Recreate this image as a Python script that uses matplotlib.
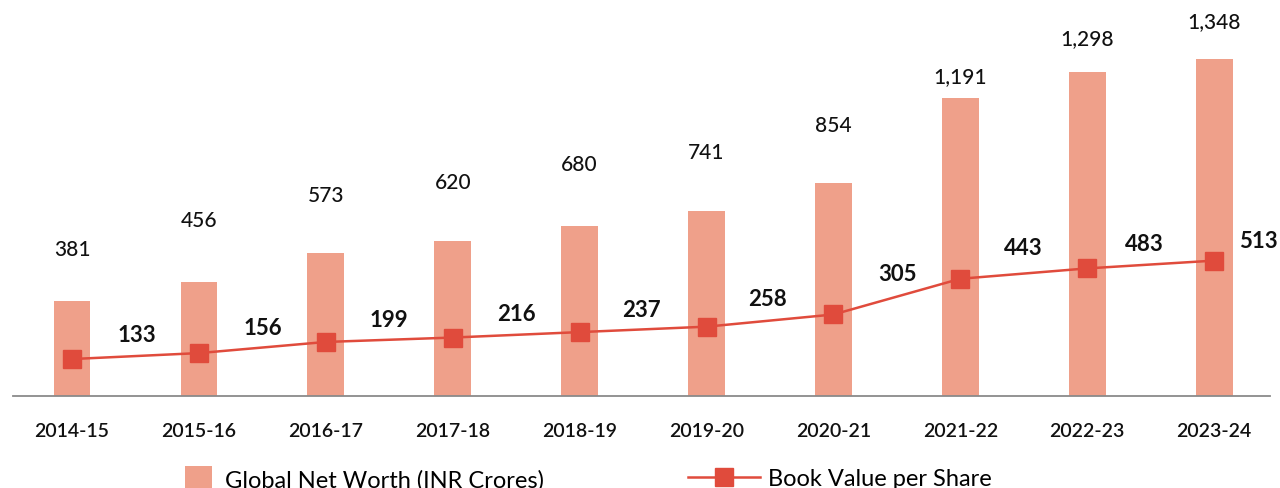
import numpy as np
import matplotlib
matplotlib.use("Agg")
import matplotlib.pyplot as plt
from matplotlib.patches import Patch
from matplotlib.lines import Line2D

plt.rcParams['font.family'] = ['Lato', 'DejaVu Sans']

years = ['2014-15', '2015-16', '2016-17', '2017-18', '2018-19',
         '2019-20', '2020-21', '2021-22', '2022-23', '2023-24']
net_worth = [381, 456, 573, 620, 680, 741, 854, 1191, 1298, 1348]
book_value = [133, 156, 199, 216, 237, 258, 305, 443, 483, 513]

bar_color = '#EFA08A'
line_color = '#E04B3C'

# label offsets (pixels) as they sit in the original
bar_lbl_dy = [52, 62, 58, 59, 62, 59, 57, 22, 33, 38]
line_lbl_dx = [65, 64, 63, 64, 62, 61, 64, 63, 57, 44]
line_lbl_dy = [25, 26, 22, 24, 23, 28, 41, 31, 25, 20]

W, H = 1280, 489
fig = plt.figure(figsize=(W / 100, H / 100), dpi=100)
ax = fig.add_axes([13 / W, 92 / H, 1257 / W, 397 / H])
x = np.arange(len(years))

ax.bar(x, net_worth, width=0.29, color=bar_color, zorder=2)
ax.set_xlim(-0.465, 9.44)
ax.set_ylim(0, 1588)
for s in ['top', 'right', 'left']:
    ax.spines[s].set_visible(False)
ax.spines['bottom'].set_color('#8a8a8a')
ax.spines['bottom'].set_linewidth(1.3)
ax.set_yticks([])
ax.set_xticks(x)
ax.set_xticklabels(years, fontsize=14, fontweight='semibold', color='#111111')
ax.tick_params(axis='x', length=0, pad=19)

for i, v in enumerate(net_worth):
    ax.annotate(f'{v:,}', (x[i], v), xytext=(0, bar_lbl_dy[i]),
                textcoords='offset pixels', ha='center', va='center',
                fontsize=15, fontweight='medium', color='#111111')

ax2 = ax.twinx()
ax2.set_ylim(-9.65, 1523)
ax2.plot(x, book_value, color=line_color, lw=1.8, marker='s', ms=13.5, zorder=3)
ax2.set_yticks([])
for s in ax2.spines.values():
    s.set_visible(False)

for i, v in enumerate(book_value):
    ax2.annotate(str(v), (x[i], v), xytext=(line_lbl_dx[i], line_lbl_dy[i]),
                 textcoords='offset pixels', ha='center', va='center',
                 fontsize=16, fontweight='bold', color='#111111')

fs = 17
fpx = fs * 100 / 72
h1 = Patch(facecolor=bar_color, edgecolor='none')
fig.legend([h1], ['Global Net Worth (INR Crores)'], loc='center left',
           bbox_to_anchor=(185 / W, 9 / H), frameon=False, fontsize=fs,
           handlelength=27 / fpx, handleheight=32 / fpx, handletextpad=13 / fpx,
           borderpad=0, borderaxespad=0)
h2 = Line2D([], [], color=line_color, lw=1.8, marker='s', ms=13.5)
fig.legend([h2], ['Book Value per Share'], loc='center left',
           bbox_to_anchor=(688 / W, 9 / H), frameon=False, fontsize=fs,
           handlelength=72 / fpx, handletextpad=8 / fpx,
           borderpad=0, borderaxespad=0)

fig.savefig('out.png', dpi=100)
